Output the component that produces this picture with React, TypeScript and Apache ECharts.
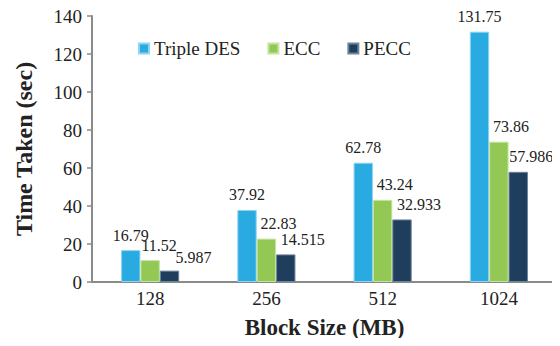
import React, { useEffect, useRef } from "react";
import * as echarts from "echarts";

const categories = ["128", "256", "512", "1024"];
const tripleDes = [16.79, 37.92, 62.78, 131.75];
const ecc = [11.52, 22.83, 43.24, 73.86];
const pecc = [5.987, 14.515, 32.933, 57.986];
const seriesNames = ["Triple DES", "ECC", "PECC"];

const FONT = "'Liberation Serif', 'DejaVu Serif', serif";
const TEXT = "#222222";
const AXIS = "#8a8a8a";

export default function App() {
  const ref = useRef<HTMLDivElement>(null);

  useEffect(() => {
    if (!ref.current) return;
    const chart = echarts.init(ref.current, undefined, { renderer: "svg" });

    const barLabel = (dx: number) => ({
      show: true,
      position: "top" as const,
      distance: 9,
      offset: [dx, 0],
      fontFamily: FONT,
      fontSize: 16,
      lineHeight: 12,
      color: TEXT,
    });

    // the two short bars of the first group sit close together, so their
    // labels are spread a little further apart; the last label stays inside the frame
    const eccData = ecc.map((v, i) =>
      i === 0 ? { value: v, label: { offset: [9, 0] } } : v
    );
    const peccData = pecc.map((v, i) => {
      if (i === 0) return { value: v, label: { offset: [24, 0], distance: 7 } };
      if (i === pecc.length - 1) return { value: v, label: { offset: [13, 0] } };
      return v;
    });

    chart.setOption({
      animation: false,
      backgroundColor: "#ffffff",
      textStyle: { fontFamily: FONT },
      grid: { left: 92, right: 3, top: 16, bottom: 64, containLabel: false },
      legend: {
        left: 133,
        top: 34,
        itemWidth: 10,
        itemHeight: 10,
        itemGap: 27,
        icon: "rect",
        textStyle: { fontFamily: FONT, fontSize: 19, color: TEXT },
        data: seriesNames,
      },
      xAxis: {
        type: "category",
        data: categories,
        name: "Block Size (MB)",
        nameLocation: "middle",
        nameGap: 34,
        nameTextStyle: { fontFamily: FONT, fontSize: 23, fontWeight: "bold", color: TEXT },
        axisLine: { lineStyle: { color: AXIS, width: 2 } },
        axisTick: { show: false },
        axisLabel: { fontFamily: FONT, fontSize: 19, color: TEXT, margin: 7 },
      },
      yAxis: {
        type: "value",
        min: 0,
        max: 140,
        interval: 20,
        name: "Time Taken (sec)",
        nameLocation: "middle",
        nameGap: 56,
        nameTextStyle: { fontFamily: FONT, fontSize: 24, fontWeight: "bold", color: TEXT },
        axisLine: { show: true, lineStyle: { color: AXIS, width: 2 } },
        axisTick: { show: true, length: 5, lineStyle: { color: AXIS, width: 1.5 } },
        axisLabel: { fontFamily: FONT, fontSize: 19, color: TEXT, margin: 10 },
        splitLine: { show: false },
      },
      series: [
        {
          name: seriesNames[0],
          type: "bar",
          data: tripleDes,
          barGap: "0%",
          barCategoryGap: "50%",
          itemStyle: { color: "#29ABE2", borderColor: "#8fd4f2", borderWidth: 1 },
          label: barLabel(0),
        },
        {
          name: seriesNames[1],
          type: "bar",
          data: eccData,
          itemStyle: { color: "#92C853", borderColor: "#c4e4a0", borderWidth: 1 },
          label: barLabel(12),
        },
        {
          name: seriesNames[2],
          type: "bar",
          data: peccData,
          itemStyle: { color: "#1F3D5C", borderColor: "#6f8399", borderWidth: 1 },
          label: barLabel(17),
        },
      ],
    });

    return () => chart.dispose();
  }, []);

  return <div ref={ref} style={{ width: 560, height: 346, margin: -8 }} />;
}
